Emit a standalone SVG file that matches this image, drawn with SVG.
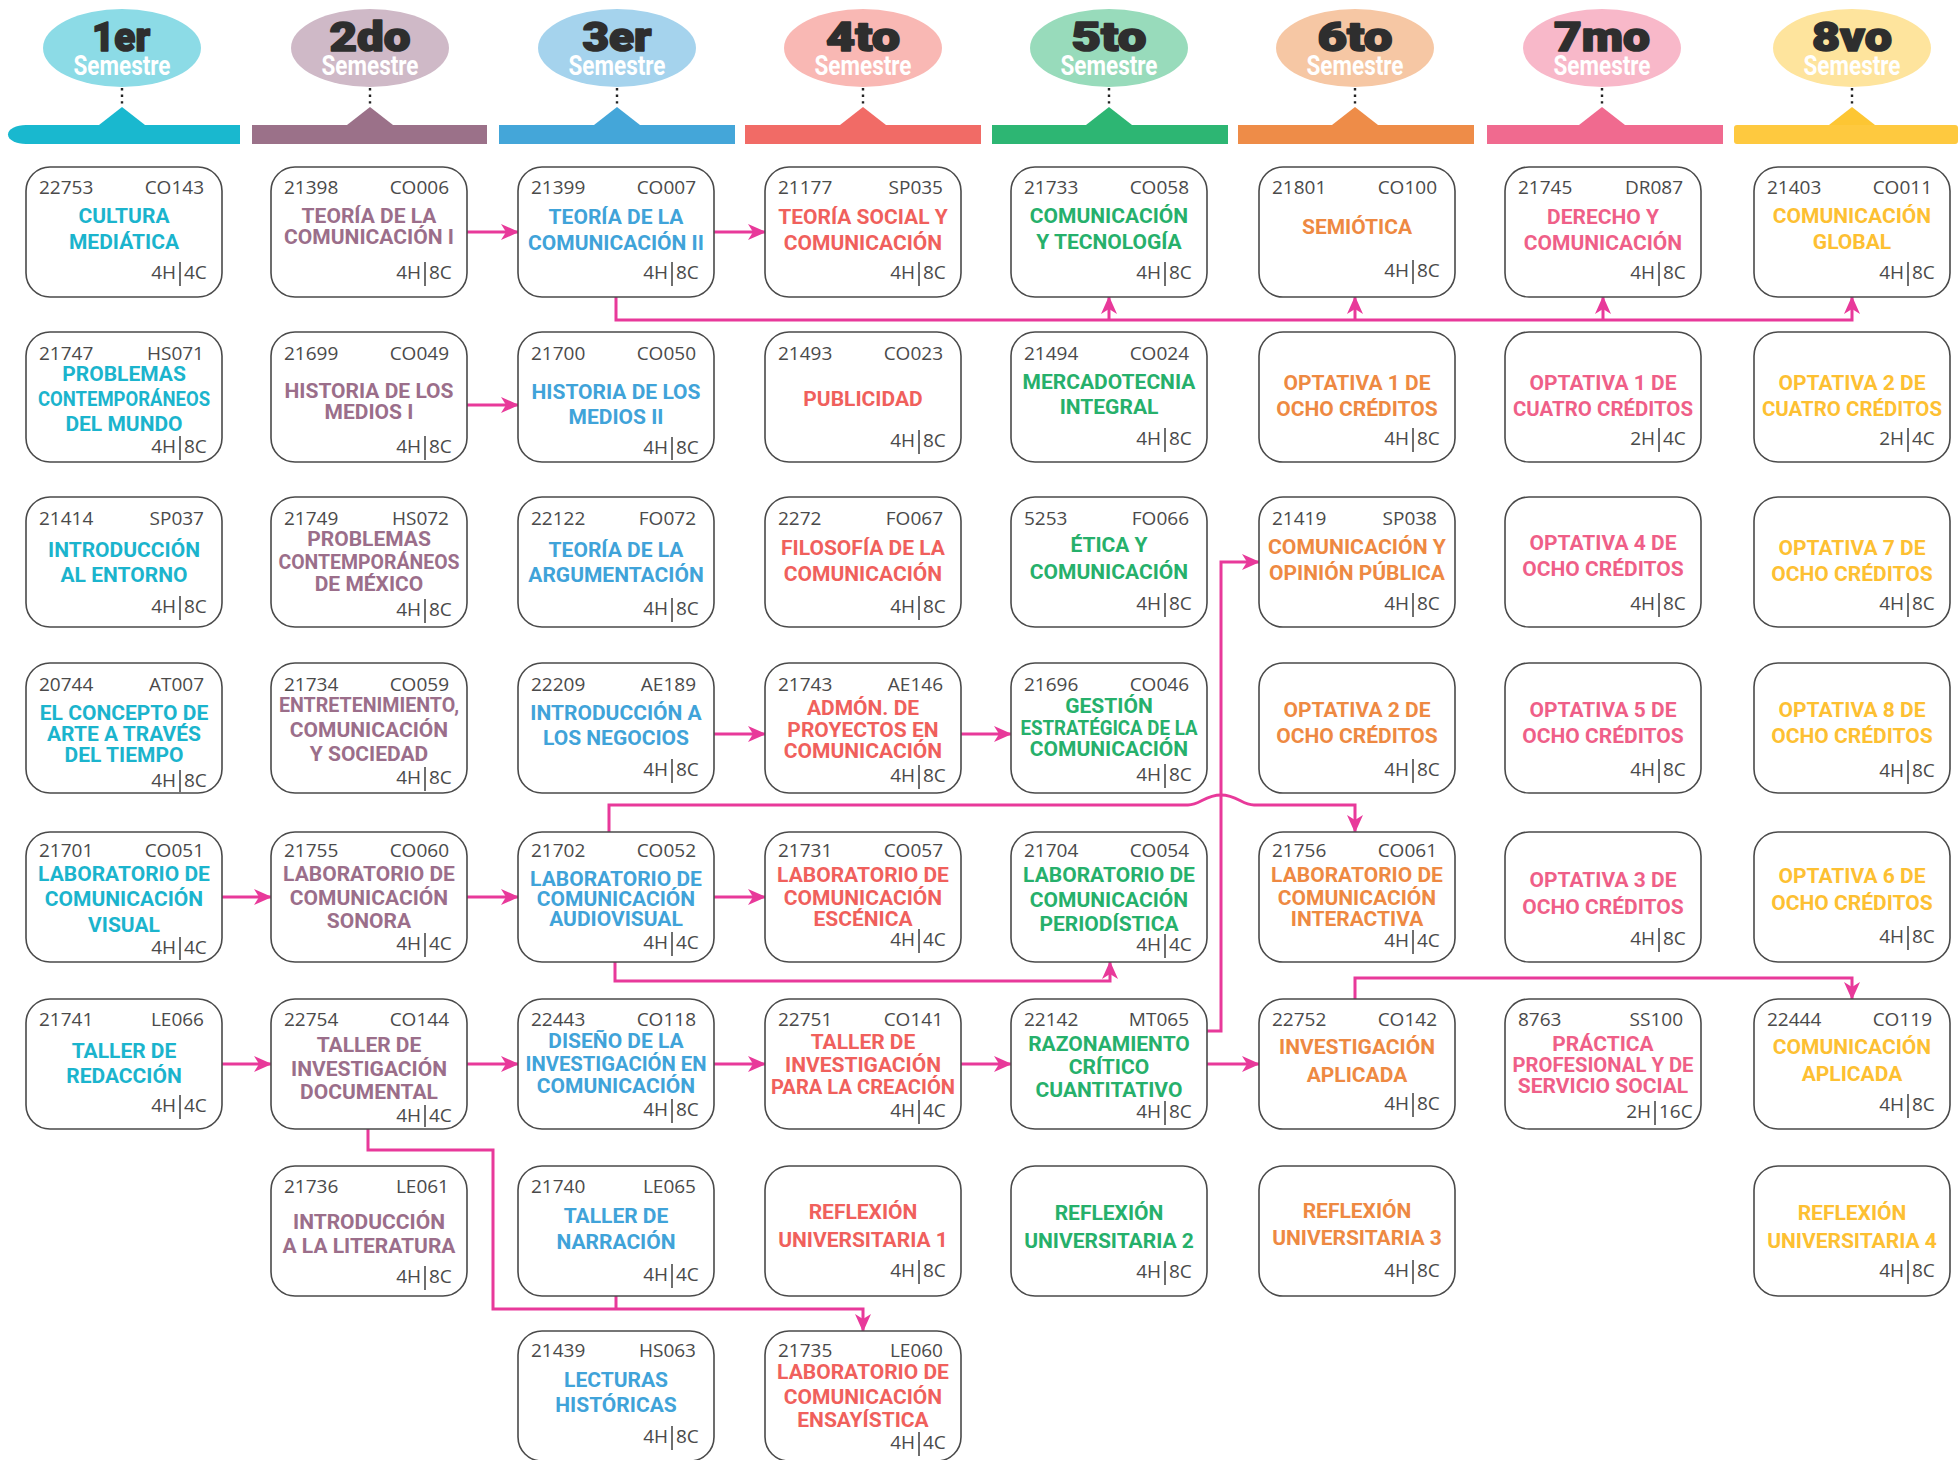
<svg xmlns="http://www.w3.org/2000/svg" width="1958" height="1460" viewBox="0 0 1958 1460">
<defs>
<style>
.box{fill:#fff;stroke:#4a4a4a;stroke-width:1.6}
.c{font-family:"Open Sans","Liberation Sans",sans-serif;font-size:19px;fill:#4a4a4a}
.r{text-anchor:end}
.sep{stroke:#4a4a4a;stroke-width:1.6}
.ttl{font-family:Roboto,"Liberation Sans",sans-serif;font-weight:700;font-size:21px;text-anchor:middle}
.t1{fill:#1bb4cd}.t2{fill:#9b6e8a}.t3{fill:#40a3d9}.t4{fill:#f0605c}
.t5{fill:#26b06b}.t6{fill:#ee8942}.t7{fill:#ef5f88}.t8{fill:#fdc032}
.ord{font-family:Roboto,"Liberation Sans",sans-serif;font-weight:900;font-size:40px;fill:#2e2e2e;stroke:#2e2e2e;stroke-width:1.6;stroke-linejoin:round;text-anchor:middle}
.sem{font-family:Roboto,"Liberation Sans",sans-serif;font-weight:700;font-size:27px;fill:#fff;text-anchor:middle}
.dot{stroke:#222;stroke-width:2.4;stroke-dasharray:2.4 4.2;stroke-linecap:butt}
.conn{fill:none;stroke:#e8399a;stroke-width:3}
</style>
<marker id="ah" markerUnits="userSpaceOnUse" markerWidth="18" markerHeight="16" refX="17" refY="8" orient="auto" viewBox="0 0 18 16">
<path d="M0,0 L18,8 L0,16 L5,8 Z" fill="#e8399a"/>
</marker>
</defs>
<rect width="1958" height="1460" fill="#fff"/>

<g id="headers">
<g id="h1">
<ellipse cx="122" cy="48" rx="79" ry="39" fill="#8cdbe6"/>
<text class="ord" x="121" y="51" textLength="58" lengthAdjust="spacingAndGlyphs">1er</text>
<text class="sem" x="122" y="75" textLength="97" lengthAdjust="spacingAndGlyphs">Semestre</text>
<line class="dot" x1="122" y1="88" x2="122" y2="107"/>
<path d="M26,125 H240 V144 H26 A18,9.5 0 0 1 26,125 Z" fill="#19b8cf"/>
<path d="M99,125 L122,107 L145,125 Z" fill="#19b8cf"/>
</g>
<g id="h2">
<ellipse cx="370" cy="48" rx="79" ry="39" fill="#cfb9c7"/>
<text class="ord" x="370" y="51" textLength="81" lengthAdjust="spacingAndGlyphs">2do</text>
<text class="sem" x="370" y="75" textLength="97" lengthAdjust="spacingAndGlyphs">Semestre</text>
<line class="dot" x1="370" y1="88" x2="370" y2="107"/>
<rect x="252" y="125" width="235" height="19" fill="#9b7189"/>
<path d="M347,125 L370,107 L393,125 Z" fill="#9b7189"/>
</g>
<g id="h3">
<ellipse cx="617" cy="48" rx="79" ry="39" fill="#a5d3ed"/>
<text class="ord" x="617" y="51" textLength="69" lengthAdjust="spacingAndGlyphs">3er</text>
<text class="sem" x="617" y="75" textLength="97" lengthAdjust="spacingAndGlyphs">Semestre</text>
<line class="dot" x1="617" y1="88" x2="617" y2="107"/>
<rect x="499" y="125" width="236" height="19" fill="#44a6d9"/>
<path d="M594,125 L617,107 L640,125 Z" fill="#44a6d9"/>
</g>
<g id="h4">
<ellipse cx="863" cy="48" rx="79" ry="39" fill="#f9b8b4"/>
<text class="ord" x="863" y="51" textLength="74" lengthAdjust="spacingAndGlyphs">4to</text>
<text class="sem" x="863" y="75" textLength="97" lengthAdjust="spacingAndGlyphs">Semestre</text>
<line class="dot" x1="863" y1="88" x2="863" y2="107"/>
<rect x="745" y="125" width="236" height="19" fill="#f16b66"/>
<path d="M840,125 L863,107 L886,125 Z" fill="#f16b66"/>
</g>
<g id="h5">
<ellipse cx="1109" cy="48" rx="79" ry="39" fill="#98dbbb"/>
<text class="ord" x="1109" y="51" textLength="75" lengthAdjust="spacingAndGlyphs">5to</text>
<text class="sem" x="1109" y="75" textLength="97" lengthAdjust="spacingAndGlyphs">Semestre</text>
<line class="dot" x1="1109" y1="88" x2="1109" y2="107"/>
<rect x="992" y="125" width="236" height="19" fill="#2db673"/>
<path d="M1086,125 L1109,107 L1132,125 Z" fill="#2db673"/>
</g>
<g id="h6">
<ellipse cx="1355" cy="48" rx="79" ry="39" fill="#f6c7a4"/>
<text class="ord" x="1355" y="51" textLength="75" lengthAdjust="spacingAndGlyphs">6to</text>
<text class="sem" x="1355" y="75" textLength="97" lengthAdjust="spacingAndGlyphs">Semestre</text>
<line class="dot" x1="1355" y1="88" x2="1355" y2="107"/>
<rect x="1238" y="125" width="236" height="19" fill="#ee8c48"/>
<path d="M1332,125 L1355,107 L1378,125 Z" fill="#ee8c48"/>
</g>
<g id="h7">
<ellipse cx="1602" cy="48" rx="79" ry="39" fill="#f8b8c9"/>
<text class="ord" x="1602" y="51" textLength="96" lengthAdjust="spacingAndGlyphs">7mo</text>
<text class="sem" x="1602" y="75" textLength="97" lengthAdjust="spacingAndGlyphs">Semestre</text>
<line class="dot" x1="1602" y1="88" x2="1602" y2="107"/>
<rect x="1487" y="125" width="236" height="19" fill="#f06a8f"/>
<path d="M1579,125 L1602,107 L1625,125 Z" fill="#f06a8f"/>
</g>
<g id="h8">
<ellipse cx="1852" cy="48" rx="79" ry="39" fill="#fee49d"/>
<text class="ord" x="1852" y="51" textLength="80" lengthAdjust="spacingAndGlyphs">8vo</text>
<text class="sem" x="1852" y="75" textLength="97" lengthAdjust="spacingAndGlyphs">Semestre</text>
<line class="dot" x1="1852" y1="88" x2="1852" y2="107"/>
<rect x="1734" y="125" width="224" height="19" rx="3" fill="#fec93f"/>
<path d="M1829,125 L1852,107 L1875,125 Z" fill="#fdc633"/>
</g>
</g>

<g id="connectors">
<line class="conn" x1="467" y1="232" x2="518" y2="232" marker-end="url(#ah)"/>
<line class="conn" x1="713" y1="232" x2="765" y2="232" marker-end="url(#ah)"/>
<path class="conn" d="M616,297 V320 H1852 V297" marker-end="url(#ah)"/>
<path class="conn" d="M1109,320 V297" marker-end="url(#ah)"/>
<path class="conn" d="M1355,320 V297" marker-end="url(#ah)"/>
<path class="conn" d="M1603,320 V297" marker-end="url(#ah)"/>
<line class="conn" x1="467" y1="405" x2="518" y2="405" marker-end="url(#ah)"/>
<line class="conn" x1="713" y1="734" x2="765" y2="734" marker-end="url(#ah)"/>
<line class="conn" x1="960" y1="734" x2="1011" y2="734" marker-end="url(#ah)"/>
<line class="conn" x1="222" y1="897" x2="271" y2="897" marker-end="url(#ah)"/>
<line class="conn" x1="467" y1="897" x2="518" y2="897" marker-end="url(#ah)"/>
<line class="conn" x1="713" y1="897" x2="765" y2="897" marker-end="url(#ah)"/>
<path class="conn" d="M609,832 V805 H1188 C1200,805 1205,795 1221,795 C1237,795 1242,805 1254,805 H1355 V832" marker-end="url(#ah)"/>
<path class="conn" d="M615,962 V981 H1110 V962" marker-end="url(#ah)"/>
<line class="conn" x1="222" y1="1064" x2="271" y2="1064" marker-end="url(#ah)"/>
<line class="conn" x1="467" y1="1064" x2="518" y2="1064" marker-end="url(#ah)"/>
<line class="conn" x1="713" y1="1064" x2="765" y2="1064" marker-end="url(#ah)"/>
<line class="conn" x1="960" y1="1064" x2="1011" y2="1064" marker-end="url(#ah)"/>
<line class="conn" x1="1206" y1="1064" x2="1259" y2="1064" marker-end="url(#ah)"/>
<path class="conn" d="M1206,1031 H1221 V562 H1259" marker-end="url(#ah)"/>
<path class="conn" d="M1355,999 V978 H1852 V999" marker-end="url(#ah)"/>
<path class="conn" d="M368,1129 V1150 H493 V1309 H863 V1331" marker-end="url(#ah)"/>
<path class="conn" d="M616,1296 V1309"/>
</g>

<!-- Column 1 -->
<g id="n22753"><rect class="box" x="26" y="167" width="196" height="130" rx="24"/>
<text class="c" x="39" y="194">22753</text><text class="c r" x="204" y="194">CO143</text>
<text class="ttl t1" x="124" y="223">CULTURA</text><text class="ttl t1" x="124" y="249">MEDIÁTICA</text>
<text class="c r" x="176" y="279">4H</text><line class="sep" x1="180" y1="262" x2="180" y2="286"/><text class="c" x="184" y="279">4C</text></g>
<g id="n21747"><rect class="box" x="26" y="332" width="196" height="130" rx="24"/>
<text class="c" x="39" y="360">21747</text><text class="c r" x="204" y="360">HS071</text>
<text class="ttl t1" x="124" y="381">PROBLEMAS</text><text class="ttl t1" x="124" y="406" textLength="172" lengthAdjust="spacingAndGlyphs">CONTEMPORÁNEOS</text><text class="ttl t1" x="124" y="431">DEL MUNDO</text>
<text class="c r" x="176" y="453">4H</text><line class="sep" x1="180" y1="436" x2="180" y2="460"/><text class="c" x="184" y="453">8C</text></g>
<g id="n21414"><rect class="box" x="26" y="497" width="196" height="130" rx="24"/>
<text class="c" x="39" y="525">21414</text><text class="c r" x="204" y="525">SP037</text>
<text class="ttl t1" x="124" y="557">INTRODUCCIÓN</text><text class="ttl t1" x="124" y="582">AL ENTORNO</text>
<text class="c r" x="176" y="613">4H</text><line class="sep" x1="180" y1="596" x2="180" y2="620"/><text class="c" x="184" y="613">8C</text></g>
<g id="n20744"><rect class="box" x="26" y="663" width="196" height="130" rx="24"/>
<text class="c" x="39" y="691">20744</text><text class="c r" x="204" y="691">AT007</text>
<text class="ttl t1" x="124" y="720">EL CONCEPTO DE</text><text class="ttl t1" x="124" y="741">ARTE A TRAVÉS</text><text class="ttl t1" x="124" y="762">DEL TIEMPO</text>
<text class="c r" x="176" y="787">4H</text><line class="sep" x1="180" y1="770" x2="180" y2="792"/><text class="c" x="184" y="787">8C</text></g>
<g id="n21701"><rect class="box" x="26" y="832" width="196" height="130" rx="24"/>
<text class="c" x="39" y="857">21701</text><text class="c r" x="204" y="857">CO051</text>
<text class="ttl t1" x="124" y="881">LABORATORIO DE</text><text class="ttl t1" x="124" y="906">COMUNICACIÓN</text><text class="ttl t1" x="124" y="932">VISUAL</text>
<text class="c r" x="176" y="954">4H</text><line class="sep" x1="180" y1="937" x2="180" y2="960"/><text class="c" x="184" y="954">4C</text></g>
<g id="n21741"><rect class="box" x="26" y="999" width="196" height="130" rx="24"/>
<text class="c" x="39" y="1026">21741</text><text class="c r" x="204" y="1026">LE066</text>
<text class="ttl t1" x="124" y="1058">TALLER DE</text><text class="ttl t1" x="124" y="1083">REDACCIÓN</text>
<text class="c r" x="176" y="1112">4H</text><line class="sep" x1="180" y1="1095" x2="180" y2="1119"/><text class="c" x="184" y="1112">4C</text></g>

<!-- Column 2 -->
<g id="n21398"><rect class="box" x="271" y="167" width="196" height="130" rx="24"/>
<text class="c" x="284" y="194">21398</text><text class="c r" x="449" y="194">CO006</text>
<text class="ttl t2" x="369" y="223">TEORÍA DE LA</text><text class="ttl t2" x="369" y="244" textLength="170" lengthAdjust="spacingAndGlyphs">COMUNICACIÓN I</text>
<text class="c r" x="421" y="279">4H</text><line class="sep" x1="425" y1="262" x2="425" y2="286"/><text class="c" x="429" y="279">8C</text></g>
<g id="n21699"><rect class="box" x="271" y="332" width="196" height="130" rx="24"/>
<text class="c" x="284" y="360">21699</text><text class="c r" x="449" y="360">CO049</text>
<text class="ttl t2" x="369" y="398">HISTORIA DE LOS</text><text class="ttl t2" x="369" y="419">MEDIOS I</text>
<text class="c r" x="421" y="453">4H</text><line class="sep" x1="425" y1="436" x2="425" y2="460"/><text class="c" x="429" y="453">8C</text></g>
<g id="n21749"><rect class="box" x="271" y="497" width="196" height="130" rx="24"/>
<text class="c" x="284" y="525">21749</text><text class="c r" x="449" y="525">HS072</text>
<text class="ttl t2" x="369" y="546">PROBLEMAS</text><text class="ttl t2" x="369" y="569" textLength="181" lengthAdjust="spacingAndGlyphs">CONTEMPORÁNEOS</text><text class="ttl t2" x="369" y="591">DE MÉXICO</text>
<text class="c r" x="421" y="616">4H</text><line class="sep" x1="425" y1="599" x2="425" y2="623"/><text class="c" x="429" y="616">8C</text></g>
<g id="n21734"><rect class="box" x="271" y="663" width="196" height="130" rx="24"/>
<text class="c" x="284" y="691">21734</text><text class="c r" x="449" y="691">CO059</text>
<text class="ttl t2" x="369" y="712" textLength="180" lengthAdjust="spacingAndGlyphs">ENTRETENIMIENTO,</text><text class="ttl t2" x="369" y="737">COMUNICACIÓN</text><text class="ttl t2" x="369" y="761">Y SOCIEDAD</text>
<text class="c r" x="421" y="784">4H</text><line class="sep" x1="425" y1="767" x2="425" y2="791"/><text class="c" x="429" y="784">8C</text></g>
<g id="n21755"><rect class="box" x="271" y="832" width="196" height="130" rx="24"/>
<text class="c" x="284" y="857">21755</text><text class="c r" x="449" y="857">CO060</text>
<text class="ttl t2" x="369" y="881">LABORATORIO DE</text><text class="ttl t2" x="369" y="905">COMUNICACIÓN</text><text class="ttl t2" x="369" y="928">SONORA</text>
<text class="c r" x="421" y="950">4H</text><line class="sep" x1="425" y1="933" x2="425" y2="957"/><text class="c" x="429" y="950">4C</text></g>
<g id="n22754"><rect class="box" x="271" y="999" width="196" height="130" rx="24"/>
<text class="c" x="284" y="1026">22754</text><text class="c r" x="449" y="1026">CO144</text>
<text class="ttl t2" x="369" y="1052">TALLER DE</text><text class="ttl t2" x="369" y="1076">INVESTIGACIÓN</text><text class="ttl t2" x="369" y="1099">DOCUMENTAL</text>
<text class="c r" x="421" y="1122">4H</text><line class="sep" x1="425" y1="1105" x2="425" y2="1127"/><text class="c" x="429" y="1122">4C</text></g>
<g id="n21736"><rect class="box" x="271" y="1166" width="196" height="130" rx="24"/>
<text class="c" x="284" y="1193">21736</text><text class="c r" x="449" y="1193">LE061</text>
<text class="ttl t2" x="369" y="1229">INTRODUCCIÓN</text><text class="ttl t2" x="369" y="1253">A LA LITERATURA</text>
<text class="c r" x="421" y="1283">4H</text><line class="sep" x1="425" y1="1266" x2="425" y2="1290"/><text class="c" x="429" y="1283">8C</text></g>

<!-- Column 3 -->
<g id="n21399"><rect class="box" x="518" y="167" width="196" height="130" rx="24"/>
<text class="c" x="531" y="194">21399</text><text class="c r" x="696" y="194">CO007</text>
<text class="ttl t3" x="616" y="224">TEORÍA DE LA</text><text class="ttl t3" x="616" y="250">COMUNICACIÓN II</text>
<text class="c r" x="668" y="279">4H</text><line class="sep" x1="672" y1="262" x2="672" y2="286"/><text class="c" x="676" y="279">8C</text></g>
<g id="n21700"><rect class="box" x="518" y="332" width="196" height="130" rx="24"/>
<text class="c" x="531" y="360">21700</text><text class="c r" x="696" y="360">CO050</text>
<text class="ttl t3" x="616" y="399">HISTORIA DE LOS</text><text class="ttl t3" x="616" y="424">MEDIOS II</text>
<text class="c r" x="668" y="454">4H</text><line class="sep" x1="672" y1="437" x2="672" y2="460"/><text class="c" x="676" y="454">8C</text></g>
<g id="n22122"><rect class="box" x="518" y="497" width="196" height="130" rx="24"/>
<text class="c" x="531" y="525">22122</text><text class="c r" x="696" y="525">FO072</text>
<text class="ttl t3" x="616" y="557">TEORÍA DE LA</text><text class="ttl t3" x="616" y="582">ARGUMENTACIÓN</text>
<text class="c r" x="668" y="615">4H</text><line class="sep" x1="672" y1="598" x2="672" y2="622"/><text class="c" x="676" y="615">8C</text></g>
<g id="n22209"><rect class="box" x="518" y="663" width="196" height="130" rx="24"/>
<text class="c" x="531" y="691">22209</text><text class="c r" x="696" y="691">AE189</text>
<text class="ttl t3" x="616" y="720">INTRODUCCIÓN A</text><text class="ttl t3" x="616" y="745">LOS NEGOCIOS</text>
<text class="c r" x="668" y="776">4H</text><line class="sep" x1="672" y1="759" x2="672" y2="783"/><text class="c" x="676" y="776">8C</text></g>
<g id="n21702"><rect class="box" x="518" y="832" width="196" height="130" rx="24"/>
<text class="c" x="531" y="857">21702</text><text class="c r" x="696" y="857">CO052</text>
<text class="ttl t3" x="616" y="886">LABORATORIO DE</text><text class="ttl t3" x="616" y="906">COMUNICACIÓN</text><text class="ttl t3" x="616" y="926">AUDIOVISUAL</text>
<text class="c r" x="668" y="949">4H</text><line class="sep" x1="672" y1="932" x2="672" y2="956"/><text class="c" x="676" y="949">4C</text></g>
<g id="n22443"><rect class="box" x="518" y="999" width="196" height="130" rx="24"/>
<text class="c" x="531" y="1026">22443</text><text class="c r" x="696" y="1026">CO118</text>
<text class="ttl t3" x="616" y="1048">DISEÑO DE LA</text><text class="ttl t3" x="616" y="1071" textLength="181" lengthAdjust="spacingAndGlyphs">INVESTIGACIÓN EN</text><text class="ttl t3" x="616" y="1093">COMUNICACIÓN</text>
<text class="c r" x="668" y="1116">4H</text><line class="sep" x1="672" y1="1099" x2="672" y2="1123"/><text class="c" x="676" y="1116">8C</text></g>
<g id="n21740"><rect class="box" x="518" y="1166" width="196" height="130" rx="24"/>
<text class="c" x="531" y="1193">21740</text><text class="c r" x="696" y="1193">LE065</text>
<text class="ttl t3" x="616" y="1223">TALLER DE</text><text class="ttl t3" x="616" y="1249">NARRACIÓN</text>
<text class="c r" x="668" y="1281">4H</text><line class="sep" x1="672" y1="1264" x2="672" y2="1288"/><text class="c" x="676" y="1281">4C</text></g>
<g id="n21439"><rect class="box" x="518" y="1331" width="196" height="130" rx="24"/>
<text class="c" x="531" y="1357">21439</text><text class="c r" x="696" y="1357">HS063</text>
<text class="ttl t3" x="616" y="1387">LECTURAS</text><text class="ttl t3" x="616" y="1412">HISTÓRICAS</text>
<text class="c r" x="668" y="1443">4H</text><line class="sep" x1="672" y1="1426" x2="672" y2="1450"/><text class="c" x="676" y="1443">8C</text></g>

<!-- Column 4 -->
<g id="n21177"><rect class="box" x="765" y="167" width="196" height="130" rx="24"/>
<text class="c" x="778" y="194">21177</text><text class="c r" x="943" y="194">SP035</text>
<text class="ttl t4" x="863" y="224">TEORÍA SOCIAL Y</text><text class="ttl t4" x="863" y="250">COMUNICACIÓN</text>
<text class="c r" x="915" y="279">4H</text><line class="sep" x1="919" y1="262" x2="919" y2="286"/><text class="c" x="923" y="279">8C</text></g>
<g id="n21493"><rect class="box" x="765" y="332" width="196" height="130" rx="24"/>
<text class="c" x="778" y="360">21493</text><text class="c r" x="943" y="360">CO023</text>
<text class="ttl t4" x="863" y="406">PUBLICIDAD</text>
<text class="c r" x="915" y="447">4H</text><line class="sep" x1="919" y1="430" x2="919" y2="454"/><text class="c" x="923" y="447">8C</text></g>
<g id="n2272"><rect class="box" x="765" y="497" width="196" height="130" rx="24"/>
<text class="c" x="778" y="525">2272</text><text class="c r" x="943" y="525">FO067</text>
<text class="ttl t4" x="863" y="555">FILOSOFÍA DE LA</text><text class="ttl t4" x="863" y="581">COMUNICACIÓN</text>
<text class="c r" x="915" y="613">4H</text><line class="sep" x1="919" y1="596" x2="919" y2="620"/><text class="c" x="923" y="613">8C</text></g>
<g id="n21743"><rect class="box" x="765" y="663" width="196" height="130" rx="24"/>
<text class="c" x="778" y="691">21743</text><text class="c r" x="943" y="691">AE146</text>
<text class="ttl t4" x="863" y="715">ADMÓN. DE</text><text class="ttl t4" x="863" y="737">PROYECTOS EN</text><text class="ttl t4" x="863" y="758">COMUNICACIÓN</text>
<text class="c r" x="915" y="782">4H</text><line class="sep" x1="919" y1="765" x2="919" y2="789"/><text class="c" x="923" y="782">8C</text></g>
<g id="n21731"><rect class="box" x="765" y="832" width="196" height="130" rx="24"/>
<text class="c" x="778" y="857">21731</text><text class="c r" x="943" y="857">CO057</text>
<text class="ttl t4" x="863" y="882">LABORATORIO DE</text><text class="ttl t4" x="863" y="905">COMUNICACIÓN</text><text class="ttl t4" x="863" y="926">ESCÉNICA</text>
<text class="c r" x="915" y="946">4H</text><line class="sep" x1="919" y1="929" x2="919" y2="953"/><text class="c" x="923" y="946">4C</text></g>
<g id="n22751"><rect class="box" x="765" y="999" width="196" height="130" rx="24"/>
<text class="c" x="778" y="1026">22751</text><text class="c r" x="943" y="1026">CO141</text>
<text class="ttl t4" x="863" y="1049">TALLER DE</text><text class="ttl t4" x="863" y="1072">INVESTIGACIÓN</text><text class="ttl t4" x="863" y="1094" textLength="184" lengthAdjust="spacingAndGlyphs">PARA LA CREACIÓN</text>
<text class="c r" x="915" y="1117">4H</text><line class="sep" x1="919" y1="1100" x2="919" y2="1124"/><text class="c" x="923" y="1117">4C</text></g>
<g id="nRU1"><rect class="box" x="765" y="1166" width="196" height="130" rx="24"/>
<text class="ttl t4" x="863" y="1219">REFLEXIÓN</text><text class="ttl t4" x="863" y="1247">UNIVERSITARIA 1</text>
<text class="c r" x="915" y="1277">4H</text><line class="sep" x1="919" y1="1260" x2="919" y2="1284"/><text class="c" x="923" y="1277">8C</text></g>
<g id="n21735"><rect class="box" x="765" y="1331" width="196" height="130" rx="24"/>
<text class="c" x="778" y="1357">21735</text><text class="c r" x="943" y="1357">LE060</text>
<text class="ttl t4" x="863" y="1379">LABORATORIO DE</text><text class="ttl t4" x="863" y="1404">COMUNICACIÓN</text><text class="ttl t4" x="863" y="1427">ENSAYÍSTICA</text>
<text class="c r" x="915" y="1449">4H</text><line class="sep" x1="919" y1="1432" x2="919" y2="1456"/><text class="c" x="923" y="1449">4C</text></g>

<!-- Column 5 -->
<g id="n21733"><rect class="box" x="1011" y="167" width="196" height="130" rx="24"/>
<text class="c" x="1024" y="194">21733</text><text class="c r" x="1189" y="194">CO058</text>
<text class="ttl t5" x="1109" y="223">COMUNICACIÓN</text><text class="ttl t5" x="1109" y="249">Y TECNOLOGÍA</text>
<text class="c r" x="1161" y="279">4H</text><line class="sep" x1="1165" y1="262" x2="1165" y2="286"/><text class="c" x="1169" y="279">8C</text></g>
<g id="n21494"><rect class="box" x="1011" y="332" width="196" height="130" rx="24"/>
<text class="c" x="1024" y="360">21494</text><text class="c r" x="1189" y="360">CO024</text>
<text class="ttl t5" x="1109" y="389">MERCADOTECNIA</text><text class="ttl t5" x="1109" y="414">INTEGRAL</text>
<text class="c r" x="1161" y="445">4H</text><line class="sep" x1="1165" y1="428" x2="1165" y2="452"/><text class="c" x="1169" y="445">8C</text></g>
<g id="n5253"><rect class="box" x="1011" y="497" width="196" height="130" rx="24"/>
<text class="c" x="1024" y="525">5253</text><text class="c r" x="1189" y="525">FO066</text>
<text class="ttl t5" x="1109" y="552">ÉTICA Y</text><text class="ttl t5" x="1109" y="579">COMUNICACIÓN</text>
<text class="c r" x="1161" y="610">4H</text><line class="sep" x1="1165" y1="593" x2="1165" y2="617"/><text class="c" x="1169" y="610">8C</text></g>
<g id="n21696"><rect class="box" x="1011" y="663" width="196" height="130" rx="24"/>
<text class="c" x="1024" y="691">21696</text><text class="c r" x="1189" y="691">CO046</text>
<text class="ttl t5" x="1109" y="713">GESTIÓN</text><text class="ttl t5" x="1109" y="735" textLength="177" lengthAdjust="spacingAndGlyphs">ESTRATÉGICA DE LA</text><text class="ttl t5" x="1109" y="756">COMUNICACIÓN</text>
<text class="c r" x="1161" y="781">4H</text><line class="sep" x1="1165" y1="764" x2="1165" y2="788"/><text class="c" x="1169" y="781">8C</text></g>
<g id="n21704"><rect class="box" x="1011" y="832" width="196" height="130" rx="24"/>
<text class="c" x="1024" y="857">21704</text><text class="c r" x="1189" y="857">CO054</text>
<text class="ttl t5" x="1109" y="882">LABORATORIO DE</text><text class="ttl t5" x="1109" y="907">COMUNICACIÓN</text><text class="ttl t5" x="1109" y="931">PERIODÍSTICA</text>
<text class="c r" x="1161" y="951">4H</text><line class="sep" x1="1165" y1="934" x2="1165" y2="958"/><text class="c" x="1169" y="951">4C</text></g>
<g id="n22142"><rect class="box" x="1011" y="999" width="196" height="130" rx="24"/>
<text class="c" x="1024" y="1026">22142</text><text class="c r" x="1189" y="1026">MT065</text>
<text class="ttl t5" x="1109" y="1051">RAZONAMIENTO</text><text class="ttl t5" x="1109" y="1074">CRÍTICO</text><text class="ttl t5" x="1109" y="1097">CUANTITATIVO</text>
<text class="c r" x="1161" y="1118">4H</text><line class="sep" x1="1165" y1="1101" x2="1165" y2="1125"/><text class="c" x="1169" y="1118">8C</text></g>
<g id="nRU2"><rect class="box" x="1011" y="1166" width="196" height="130" rx="24"/>
<text class="ttl t5" x="1109" y="1220">REFLEXIÓN</text><text class="ttl t5" x="1109" y="1248">UNIVERSITARIA 2</text>
<text class="c r" x="1161" y="1278">4H</text><line class="sep" x1="1165" y1="1261" x2="1165" y2="1285"/><text class="c" x="1169" y="1278">8C</text></g>

<!-- Column 6 -->
<g id="n21801"><rect class="box" x="1259" y="167" width="196" height="130" rx="24"/>
<text class="c" x="1272" y="194">21801</text><text class="c r" x="1437" y="194">CO100</text>
<text class="ttl t6" x="1357" y="234">SEMIÓTICA</text>
<text class="c r" x="1409" y="277">4H</text><line class="sep" x1="1413" y1="260" x2="1413" y2="284"/><text class="c" x="1417" y="277">8C</text></g>
<g id="nOPT1-8"><rect class="box" x="1259" y="332" width="196" height="130" rx="24"/>
<text class="ttl t6" x="1357" y="390">OPTATIVA 1 DE</text><text class="ttl t6" x="1357" y="416">OCHO CRÉDITOS</text>
<text class="c r" x="1409" y="445">4H</text><line class="sep" x1="1413" y1="428" x2="1413" y2="452"/><text class="c" x="1417" y="445">8C</text></g>
<g id="n21419"><rect class="box" x="1259" y="497" width="196" height="130" rx="24"/>
<text class="c" x="1272" y="525">21419</text><text class="c r" x="1437" y="525">SP038</text>
<text class="ttl t6" x="1357" y="554" textLength="178" lengthAdjust="spacingAndGlyphs">COMUNICACIÓN Y</text><text class="ttl t6" x="1357" y="580">OPINIÓN PÚBLICA</text>
<text class="c r" x="1409" y="610">4H</text><line class="sep" x1="1413" y1="593" x2="1413" y2="617"/><text class="c" x="1417" y="610">8C</text></g>
<g id="nOPT2-8"><rect class="box" x="1259" y="663" width="196" height="130" rx="24"/>
<text class="ttl t6" x="1357" y="717">OPTATIVA 2 DE</text><text class="ttl t6" x="1357" y="743">OCHO CRÉDITOS</text>
<text class="c r" x="1409" y="776">4H</text><line class="sep" x1="1413" y1="759" x2="1413" y2="783"/><text class="c" x="1417" y="776">8C</text></g>
<g id="n21756"><rect class="box" x="1259" y="832" width="196" height="130" rx="24"/>
<text class="c" x="1272" y="857">21756</text><text class="c r" x="1437" y="857">CO061</text>
<text class="ttl t6" x="1357" y="882">LABORATORIO DE</text><text class="ttl t6" x="1357" y="905">COMUNICACIÓN</text><text class="ttl t6" x="1357" y="926">INTERACTIVA</text>
<text class="c r" x="1409" y="947">4H</text><line class="sep" x1="1413" y1="930" x2="1413" y2="954"/><text class="c" x="1417" y="947">4C</text></g>
<g id="n22752"><rect class="box" x="1259" y="999" width="196" height="130" rx="24"/>
<text class="c" x="1272" y="1026">22752</text><text class="c r" x="1437" y="1026">CO142</text>
<text class="ttl t6" x="1357" y="1054">INVESTIGACIÓN</text><text class="ttl t6" x="1357" y="1082">APLICADA</text>
<text class="c r" x="1409" y="1110">4H</text><line class="sep" x1="1413" y1="1093" x2="1413" y2="1117"/><text class="c" x="1417" y="1110">8C</text></g>
<g id="nRU3"><rect class="box" x="1259" y="1166" width="196" height="130" rx="24"/>
<text class="ttl t6" x="1357" y="1218">REFLEXIÓN</text><text class="ttl t6" x="1357" y="1245">UNIVERSITARIA 3</text>
<text class="c r" x="1409" y="1277">4H</text><line class="sep" x1="1413" y1="1260" x2="1413" y2="1284"/><text class="c" x="1417" y="1277">8C</text></g>

<!-- Column 7 -->
<g id="n21745"><rect class="box" x="1505" y="167" width="196" height="130" rx="24"/>
<text class="c" x="1518" y="194">21745</text><text class="c r" x="1683" y="194">DR087</text>
<text class="ttl t7" x="1603" y="224">DERECHO Y</text><text class="ttl t7" x="1603" y="250">COMUNICACIÓN</text>
<text class="c r" x="1655" y="279">4H</text><line class="sep" x1="1659" y1="262" x2="1659" y2="286"/><text class="c" x="1663" y="279">8C</text></g>
<g id="nOPT1-4"><rect class="box" x="1505" y="332" width="196" height="130" rx="24"/>
<text class="ttl t7" x="1603" y="390">OPTATIVA 1 DE</text><text class="ttl t7" x="1603" y="416" textLength="180" lengthAdjust="spacingAndGlyphs">CUATRO CRÉDITOS</text>
<text class="c r" x="1655" y="445">2H</text><line class="sep" x1="1659" y1="428" x2="1659" y2="452"/><text class="c" x="1663" y="445">4C</text></g>
<g id="nOPT4-8"><rect class="box" x="1505" y="497" width="196" height="130" rx="24"/>
<text class="ttl t7" x="1603" y="550">OPTATIVA 4 DE</text><text class="ttl t7" x="1603" y="576">OCHO CRÉDITOS</text>
<text class="c r" x="1655" y="610">4H</text><line class="sep" x1="1659" y1="593" x2="1659" y2="617"/><text class="c" x="1663" y="610">8C</text></g>
<g id="nOPT5-8"><rect class="box" x="1505" y="663" width="196" height="130" rx="24"/>
<text class="ttl t7" x="1603" y="717">OPTATIVA 5 DE</text><text class="ttl t7" x="1603" y="743">OCHO CRÉDITOS</text>
<text class="c r" x="1655" y="776">4H</text><line class="sep" x1="1659" y1="759" x2="1659" y2="783"/><text class="c" x="1663" y="776">8C</text></g>
<g id="nOPT3-8"><rect class="box" x="1505" y="832" width="196" height="130" rx="24"/>
<text class="ttl t7" x="1603" y="887">OPTATIVA 3 DE</text><text class="ttl t7" x="1603" y="914">OCHO CRÉDITOS</text>
<text class="c r" x="1655" y="945">4H</text><line class="sep" x1="1659" y1="928" x2="1659" y2="952"/><text class="c" x="1663" y="945">8C</text></g>
<g id="n8763"><rect class="box" x="1505" y="999" width="196" height="130" rx="24"/>
<text class="c" x="1518" y="1026">8763</text><text class="c r" x="1683" y="1026">SS100</text>
<text class="ttl t7" x="1603" y="1051">PRÁCTICA</text><text class="ttl t7" x="1603" y="1072" textLength="181" lengthAdjust="spacingAndGlyphs">PROFESIONAL Y DE</text><text class="ttl t7" x="1603" y="1093">SERVICIO SOCIAL</text>
<text class="c r" x="1651" y="1118">2H</text><line class="sep" x1="1655" y1="1101" x2="1655" y2="1125"/><text class="c" x="1659" y="1118">16C</text></g>

<!-- Column 8 -->
<g id="n21403"><rect class="box" x="1754" y="167" width="196" height="130" rx="24"/>
<text class="c" x="1767" y="194">21403</text><text class="c r" x="1932" y="194">CO011</text>
<text class="ttl t8" x="1852" y="223">COMUNICACIÓN</text><text class="ttl t8" x="1852" y="249">GLOBAL</text>
<text class="c r" x="1904" y="279">4H</text><line class="sep" x1="1908" y1="262" x2="1908" y2="286"/><text class="c" x="1912" y="279">8C</text></g>
<g id="nOPT2-4"><rect class="box" x="1754" y="332" width="196" height="130" rx="24"/>
<text class="ttl t8" x="1852" y="390">OPTATIVA 2 DE</text><text class="ttl t8" x="1852" y="416" textLength="180" lengthAdjust="spacingAndGlyphs">CUATRO CRÉDITOS</text>
<text class="c r" x="1904" y="445">2H</text><line class="sep" x1="1908" y1="428" x2="1908" y2="452"/><text class="c" x="1912" y="445">4C</text></g>
<g id="nOPT7-8"><rect class="box" x="1754" y="497" width="196" height="130" rx="24"/>
<text class="ttl t8" x="1852" y="555">OPTATIVA 7 DE</text><text class="ttl t8" x="1852" y="581">OCHO CRÉDITOS</text>
<text class="c r" x="1904" y="610">4H</text><line class="sep" x1="1908" y1="593" x2="1908" y2="617"/><text class="c" x="1912" y="610">8C</text></g>
<g id="nOPT8-8"><rect class="box" x="1754" y="663" width="196" height="130" rx="24"/>
<text class="ttl t8" x="1852" y="717">OPTATIVA 8 DE</text><text class="ttl t8" x="1852" y="743">OCHO CRÉDITOS</text>
<text class="c r" x="1904" y="777">4H</text><line class="sep" x1="1908" y1="760" x2="1908" y2="784"/><text class="c" x="1912" y="777">8C</text></g>
<g id="nOPT6-8"><rect class="box" x="1754" y="832" width="196" height="130" rx="24"/>
<text class="ttl t8" x="1852" y="883">OPTATIVA 6 DE</text><text class="ttl t8" x="1852" y="910">OCHO CRÉDITOS</text>
<text class="c r" x="1904" y="943">4H</text><line class="sep" x1="1908" y1="926" x2="1908" y2="950"/><text class="c" x="1912" y="943">8C</text></g>
<g id="n22444"><rect class="box" x="1754" y="999" width="196" height="130" rx="24"/>
<text class="c" x="1767" y="1026">22444</text><text class="c r" x="1932" y="1026">CO119</text>
<text class="ttl t8" x="1852" y="1054">COMUNICACIÓN</text><text class="ttl t8" x="1852" y="1081">APLICADA</text>
<text class="c r" x="1904" y="1111">4H</text><line class="sep" x1="1908" y1="1094" x2="1908" y2="1118"/><text class="c" x="1912" y="1111">8C</text></g>
<g id="nRU4"><rect class="box" x="1754" y="1166" width="196" height="130" rx="24"/>
<text class="ttl t8" x="1852" y="1220">REFLEXIÓN</text><text class="ttl t8" x="1852" y="1248">UNIVERSITARIA 4</text>
<text class="c r" x="1904" y="1277">4H</text><line class="sep" x1="1908" y1="1260" x2="1908" y2="1284"/><text class="c" x="1912" y="1277">8C</text></g>
</svg>
